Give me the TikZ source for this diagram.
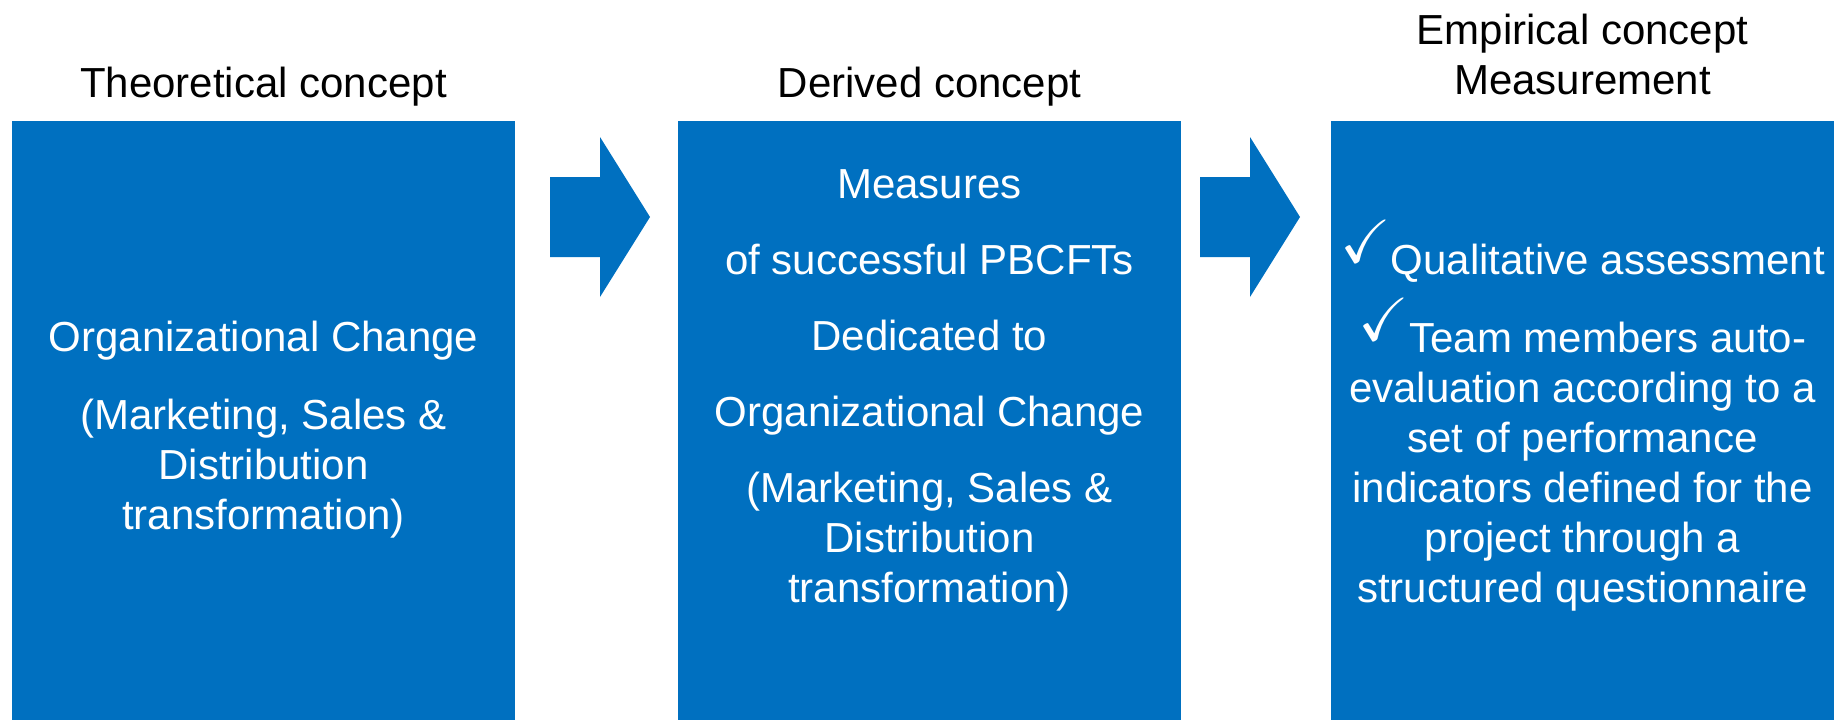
\documentclass[tikz,border=0pt]{standalone}
\usepackage{amssymb}
\usepackage{graphicx}
\usepackage{fontspec}
\setmainfont{Liberation Sans}
\definecolor{boxblue}{RGB}{0,112,192}
\newcommand{\chk}{\smash{\raisebox{12pt}{\scalebox{1.45}{$\checkmark$}}}}
\tikzset{
  conceptbox/.style={fill=boxblue, draw=none, inner sep=0pt, anchor=north west,
    minimum width=503pt, minimum height=600pt},
  boxtext/.style={text=white, align=center, inner sep=0pt,
    font=\fontsize{42}{50}\selectfont},
  titletext/.style={text=black, align=center, inner sep=0pt,
    font=\fontsize{42}{50}\selectfont},
  blockarrow/.style={fill=boxblue, draw=none}
}
\begin{document}
\begin{tikzpicture}[x=1pt,y=-1pt]
\useasboundingbox (0,0) rectangle (1847,720);
% boxes
\node[conceptbox] (b1) at (12,121) {};
\node[conceptbox] (b2) at (678,121) {};
\node[conceptbox] (b3) at (1331,121) {};
% block arrows
\coordinate (a1) at (550,217);
\coordinate (a2) at (1200,217);
\foreach \c in {a1,a2}{
  \fill[blockarrow] ([shift={(0,-40)}]\c) -- ++(50,0) -- ++(0,-40) -- ++(50,80)
     -- ++(-50,80) -- ++(0,-40) -- ++(-50,0) -- cycle;
}
% titles
\node[titletext] (h1) at (263.5,87) {Theoretical concept};
\node[titletext] (h2) at (929.5,87) {Derived concept};
\node[titletext] (h3) at (1582.5,54) {Empirical concept\\Measurement};
% box texts
\node[boxtext] (t1) at (263.5,430) {Organizational Change\\[28pt](Marketing, Sales \&\\Distribution\\transformation)};
\node[boxtext] (t2) at (929.5,390) {Measures\\[26pt]of successful PBCFTs\\[26pt]Dedicated to\\[26pt]Organizational Change\\[26pt](Marketing, Sales \&\\Distribution\\transformation)};
\node[boxtext] (t3) at (1582.5,428) {\chk Qualitative assessment\\[28pt]\chk Team members auto-\\evaluation according to a\\set of performance\\indicators defined for the\\project through a\\structured questionnaire};
\end{tikzpicture}
\end{document}
